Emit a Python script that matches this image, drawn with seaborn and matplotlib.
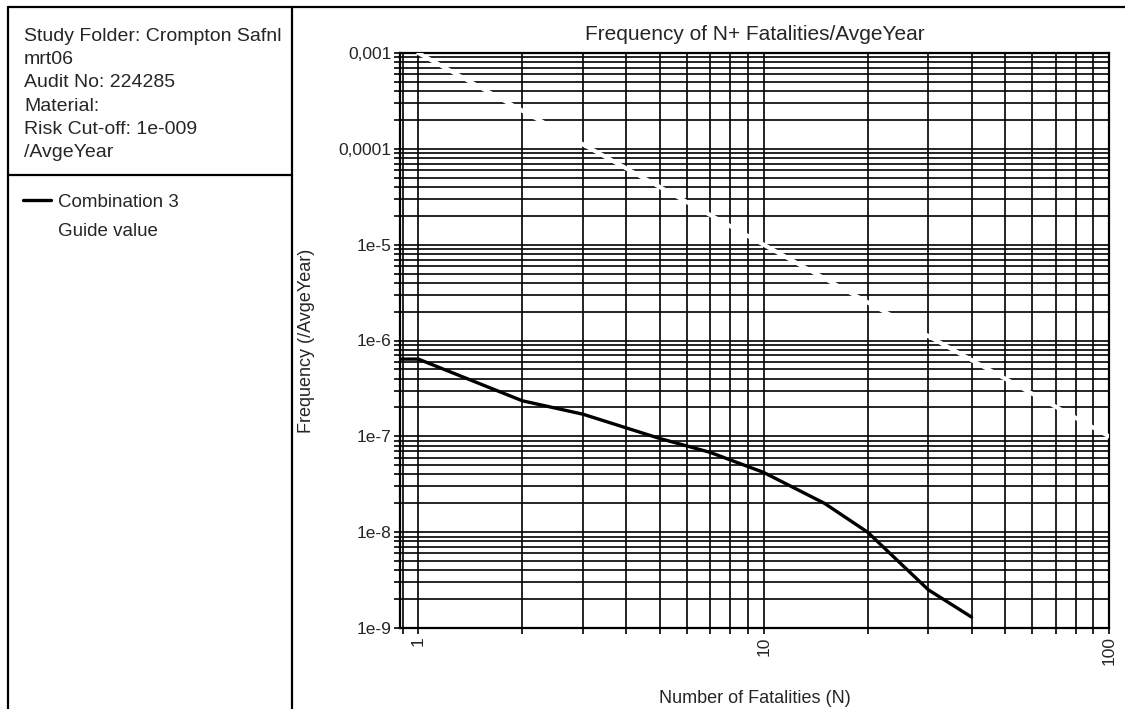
#!/usr/bin/python
# -*- coding: utf-8 -*-
"""FN curve: frequency of N+ fatalities per average year"""

import numpy as np
import seaborn as sns
import matplotlib.pyplot as plt
from matplotlib.lines import Line2D
from matplotlib.ticker import FixedLocator, LogLocator, NullFormatter


# Combination 3 curve
COMB_N = [0.885, 1, 2, 3, 5, 7, 10, 15, 20, 30, 40]
COMB_F = [6.4e-7, 6.4e-7, 2.35e-7, 1.7e-7, 9.5e-8, 6.8e-8, 4.2e-8, 2.0e-8,
          1.0e-8, 2.5e-9, 1.3e-9]

# guide value line
GUIDE_N = [1, 100]
GUIDE_F = [1e-3, 1e-7]

X_TICKS = [1, 10, 100]
X_LABELS = ['1', '10', '100']
Y_TICKS = [1e-9, 1e-8, 1e-7, 1e-6, 1e-5, 1e-4, 1e-3]
Y_LABELS = ['1e-9', '1e-8', '1e-7', '1e-6', '1e-5', '0,0001', '0,001']

INFO = ("Study Folder: Crompton Safnl\nmrt06\nAudit No: 224285\nMaterial:\n"
        "Risk Cut-off: 1e-009\n/AvgeYear")


def plot_fn():

    sns.set_style("white")
    plt.rcParams['font.family'] = ['Liberation Sans', 'DejaVu Sans']

    W, H = 1125, 709
    fig = plt.figure(figsize=(W / 100, H / 100), dpi=100)
    ax = fig.add_axes([400 / W, 1 - 628 / H, (1109 - 400) / W, (628 - 53) / H])

    df_c = {'n': COMB_N, 'f': COMB_F}
    df_g = {'n': GUIDE_N, 'f': GUIDE_F}
    sns.lineplot(x='n', y='f', data=df_c, ax=ax, color='black', lw=2.4,
                 label='Combination 3', zorder=5)
    sns.lineplot(x='n', y='f', data=df_g, ax=ax, color='white', lw=3,
                 label='Guide value', zorder=4)

    ax.set(xscale='log', yscale='log')
    ax.set_xlim(0.885, 100)
    ax.set_ylim(1e-9, 1e-3)

    ax.xaxis.set_major_locator(FixedLocator(X_TICKS))
    ax.set_xticklabels(X_LABELS, rotation=90, fontsize=12.5)
    ax.xaxis.set_minor_locator(LogLocator(base=10, subs=np.arange(2, 10)))
    ax.xaxis.set_minor_formatter(NullFormatter())
    ax.yaxis.set_major_locator(FixedLocator(Y_TICKS))
    ax.set_yticklabels(Y_LABELS, fontsize=12.5)
    ax.yaxis.set_minor_locator(LogLocator(base=10, subs=np.arange(2, 10)))
    ax.yaxis.set_minor_formatter(NullFormatter())

    ax.tick_params(which='both', direction='out', length=4, width=1.2,
                   color='black', left=True, bottom=True, pad=2)
    ax.grid(which='both', color='#0a0a0a', lw=1.25)
    for s in ax.spines.values():
        s.set_color('black')
        s.set_linewidth(1.6)

    ax.set_title('Frequency of N+ Fatalities/AvgeYear', fontsize=15, pad=9)
    ax.set_xlabel('Number of Fatalities (N)', fontsize=13)
    ax.set_ylabel('Frequency (/AvgeYear)', fontsize=13)
    ax.yaxis.set_label_coords((315 - 400) / (1109 - 400), 0.5)
    ax.xaxis.set_label_coords(0.5, (628 - 690) / (628 - 53))

    # legend in the side panel
    handles, labels = ax.get_legend_handles_labels()
    ax.get_legend().remove()
    fig.legend(handles, labels, loc='upper left', bbox_to_anchor=(6 / W, 1 - 177 / H),
               frameon=False, fontsize=13.5, handlelength=1.5, handletextpad=0.4,
               labelspacing=0.65)

    fig.text(24 / W, 1 - 28 / H, INFO, ha='left', va='top', fontsize=14,
             linespacing=1.48)

    # panel frame
    for xs, ys in [([8, W], [7, 7]), ([8, 8], [7, H]), ([292, 292], [7, H]),
                   ([8, 292], [175, 175])]:
        fig.add_artist(Line2D([x / W for x in xs], [1 - y / H for y in ys],
                              color='black', lw=1.6))

    fig.savefig('out.png', dpi=100)


if __name__ == "__main__":

    plot_fn()
